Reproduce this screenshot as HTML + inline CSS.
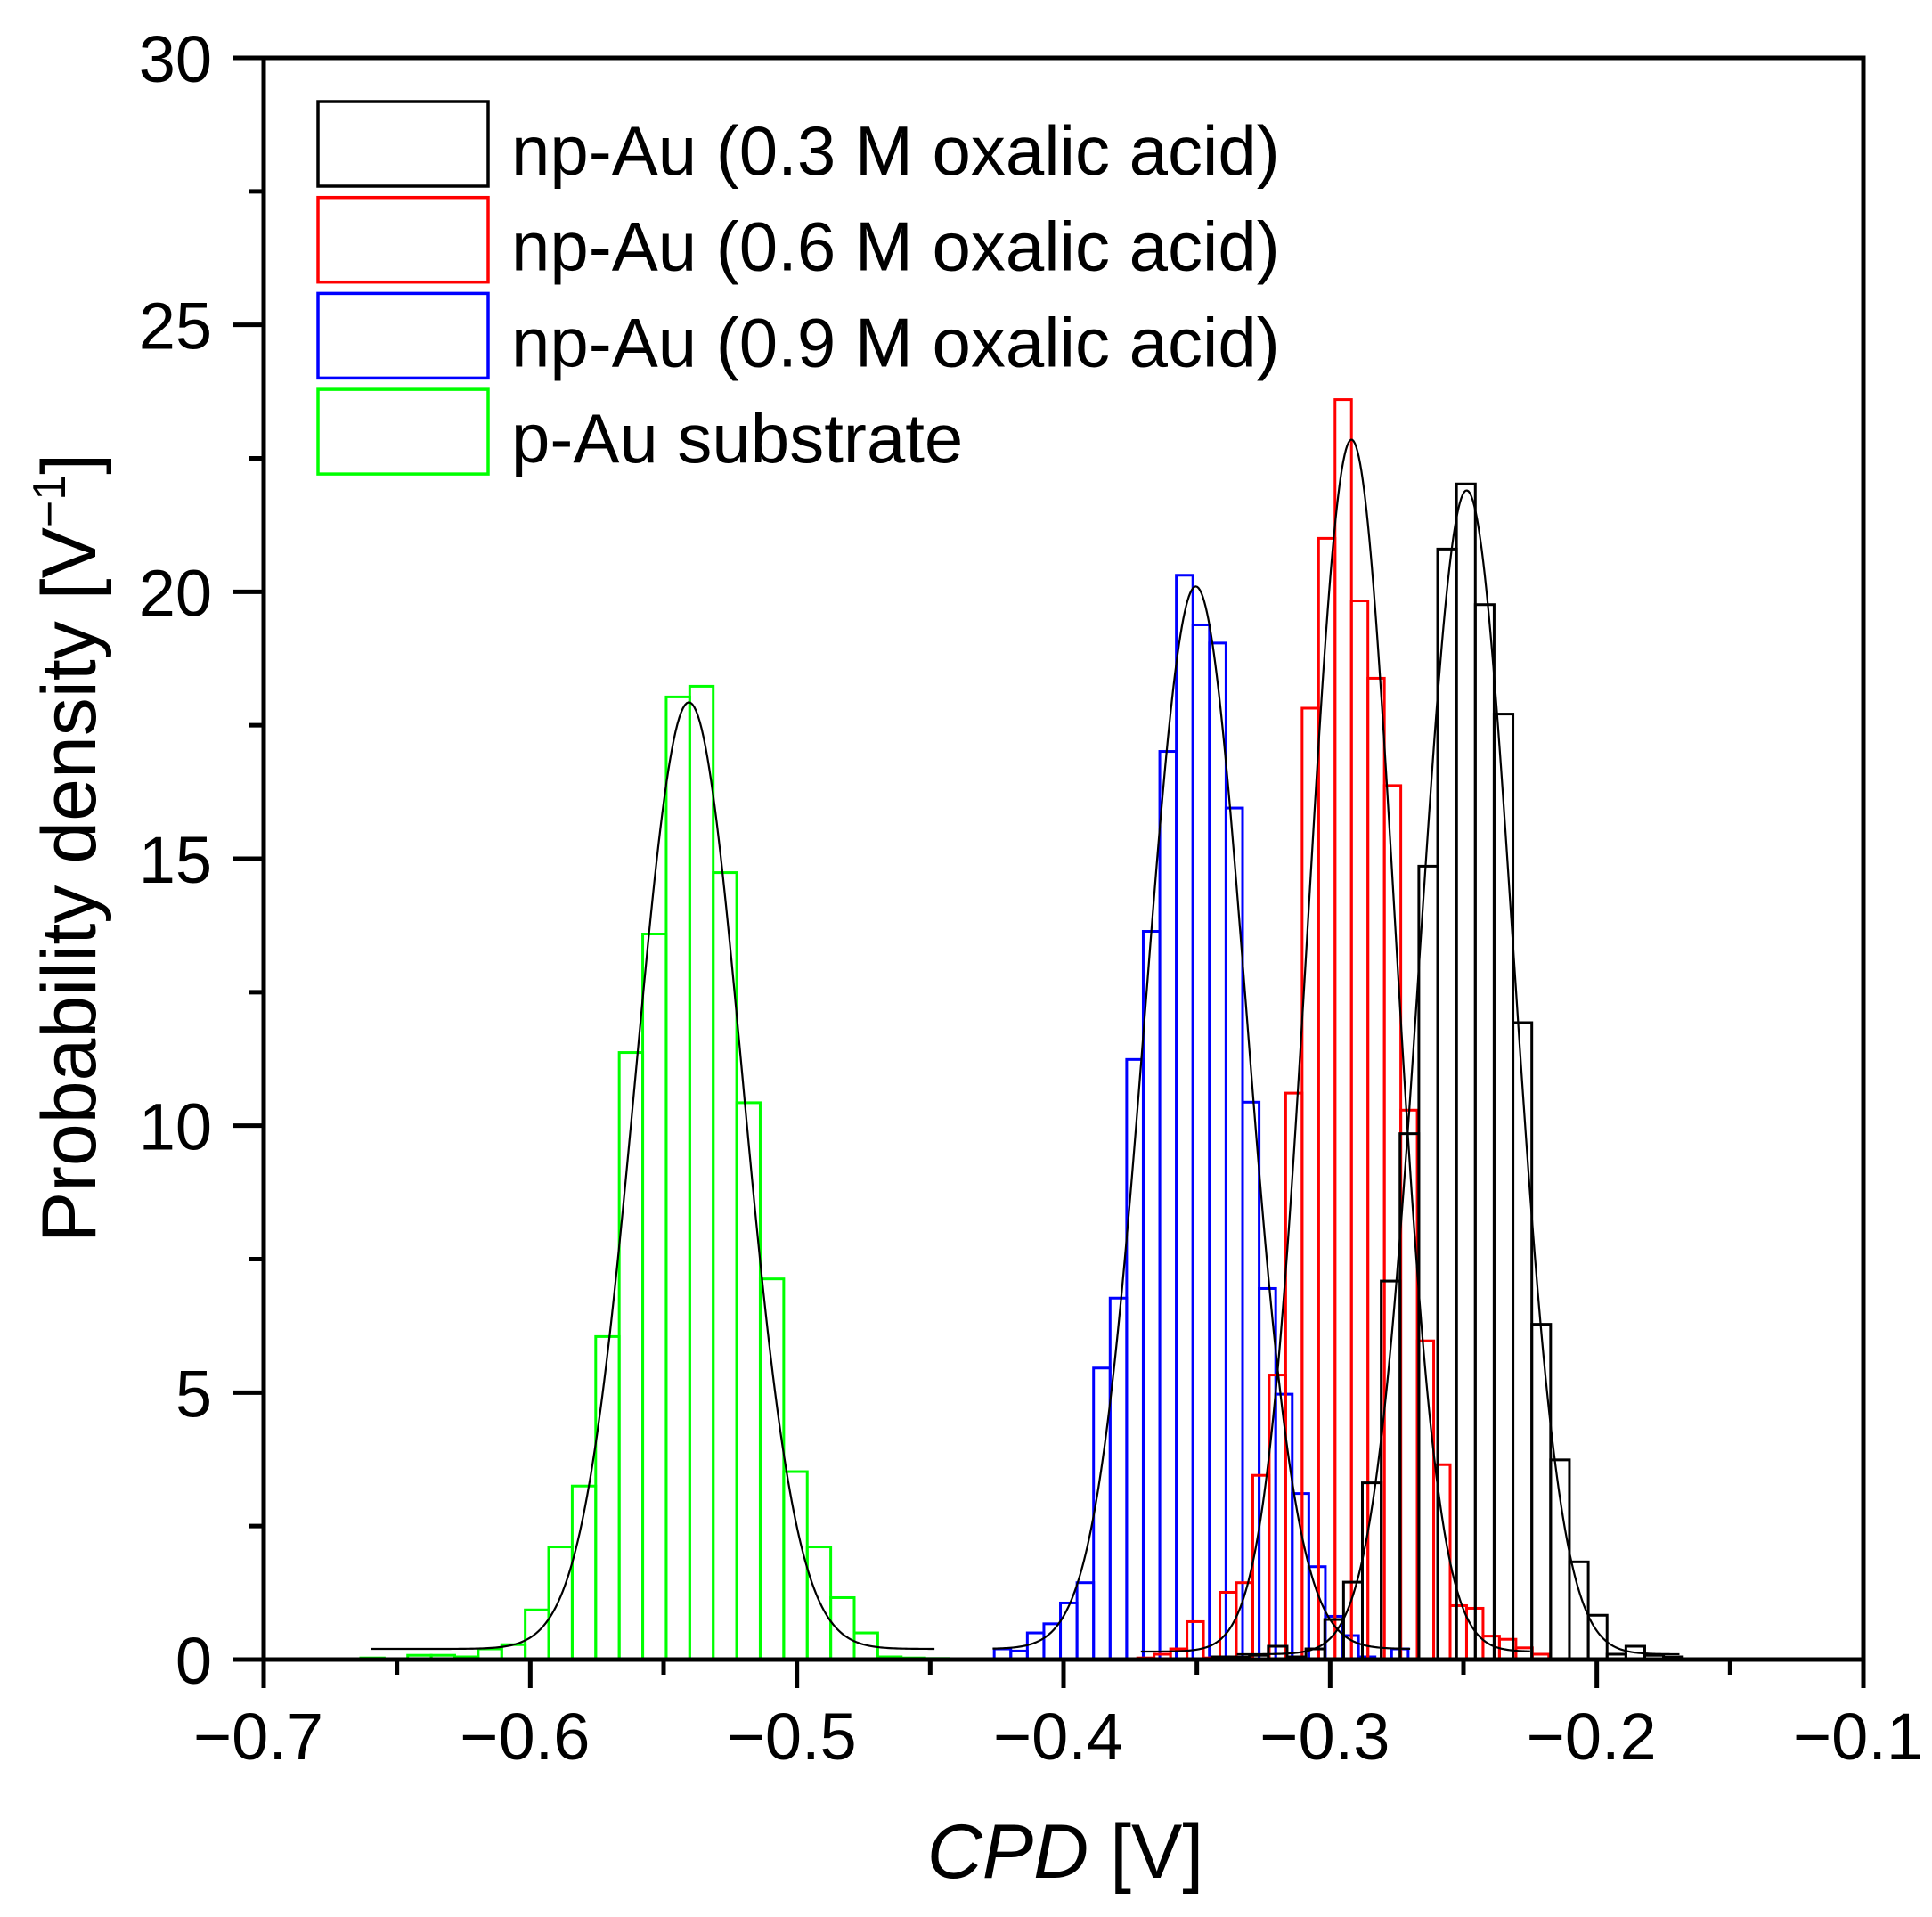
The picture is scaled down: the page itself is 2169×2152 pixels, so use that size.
<!DOCTYPE html>
<html><head><meta charset="utf-8"><style>
html,body{margin:0;padding:0;background:#fff;}
svg{display:block;}
text{font-family:"Liberation Sans",Arial,sans-serif;fill:#000;}
</style></head><body>
<svg id="chart" width="2169" height="2152" viewBox="0 0 2169 2152" xmlns="http://www.w3.org/2000/svg">
<g id="plot"></g>
<g id="axes"></g>
<g id="legend"></g>
</svg>
<script>
// ---- data ----
const xTicks = [-0.7, -0.6, -0.5, -0.4, -0.3, -0.2, -0.1];
const xTickLabels = ["\u22120.7", "\u22120.6", "\u22120.5", "\u22120.4", "\u22120.3", "\u22120.2", "\u22120.1"];
const yTicks = [0, 5, 10, 15, 20, 25, 30];
const yTickLabels = ["0", "5", "10", "15", "20", "25", "30"];

const greenStart = -0.6636, greenWidth = 0.008814;
const greenHeights = [0.03, 0.0, 0.08, 0.08, 0.05, 0.2, 0.28, 0.93, 2.11, 3.25, 6.05, 11.37, 13.59, 18.03, 18.23, 14.74, 10.43, 7.13, 3.52, 2.11, 1.16, 0.50, 0.05, 0.03, 0.02];

const blueStart = -0.4260, blueWidth = 0.00621;
const blueHeights = [0.20, 0.16, 0.50, 0.67, 1.06, 1.44, 5.46, 6.77, 11.24, 13.64, 17.01, 20.31, 19.38, 19.04, 15.95, 10.44, 6.95, 4.97, 3.11, 1.74, 0.81, 0.45, 0.05, 0.0, 0.20];

const redStart = -0.3722, redWidth = 0.006168;
const redHeights = [0.03, 0.1, 0.2, 0.71, 0.03, 1.26, 1.44, 3.45, 5.33, 10.61, 17.82, 21.0, 23.6, 19.83, 18.38, 16.37, 10.29, 5.97, 3.65, 1.01, 0.96, 0.44, 0.38, 0.22, 0.1];

const blackStart = -0.3444, blackWidth = 0.00706;
const blackHeights = [0.05, 0.05, 0.08, 0.25, 0.05, 0.2, 0.75, 1.45, 3.31, 7.09, 9.85, 14.86, 20.80, 22.02, 19.76, 17.71, 11.93, 6.28, 3.74, 1.83, 0.83, 0.1, 0.25, 0.08, 0.05];

// Gaussian fit parameters: [center, amplitude, sigma, offset, xmin, xmax]
const greenFit = [-0.5405, 17.73, 0.0200, 0.2, -0.6596, -0.4484];
const blueFit = [-0.3504, 19.9, 0.0188, 0.2, -0.4266, -0.2700];
const redFit = [-0.2920, 22.7, 0.0162, 0.15, -0.3710, -0.2250];
const blackFit = [-0.2488, 21.8, 0.01746, 0.1, -0.3350, -0.1690];

const legendLabels = ["np-Au (0.3 M oxalic acid)", "np-Au (0.6 M oxalic acid)", "np-Au (0.9 M oxalic acid)", "p-Au substrate"];
const legendColors = ["#000000", "#ff0000", "#0000ff", "#00ff00"];

// ---- axis functions ----
const X0 = 296, X1 = 2092, Y0 = 1863, Y1 = 65;
function xs(v){ return X0 + (v - (-0.7)) / 0.6 * (X1 - X0); }
function ys(v){ return Y0 - v / 30 * (Y0 - Y1); }
const NS = "http://www.w3.org/2000/svg";
function mk(tag, attrs, parent){
  const e = document.createElementNS(NS, tag);
  for (const k in attrs) e.setAttribute(k, attrs[k]);
  parent.appendChild(e);
  return e;
}
const plot = document.getElementById('plot');
const axes = document.getElementById('axes');
const legend = document.getElementById('legend');

function drawHist(start, width, heights, color, name){
  const g = mk('g', {}, plot);
  
  
  heights.forEach((h, i) => {
    if (h <= 0) return;
    const xa = xs(start + i * width), xb = xs(start + (i + 1) * width);
    const r = mk('rect', {x: xa, y: ys(h), width: xb - xa, height: ys(0) - ys(h), fill: 'none', stroke: color, 'stroke-width': 3}, g);
    
    
  });
}
function drawFit(p, name){
  const [c, a, s, o, lo, hi] = p;
  let d = '';
  const n = 300;
  for (let i = 0; i <= n; i++){
    const v = lo + (hi - lo) * i / n;
    const y = o + a * Math.exp(-0.5 * Math.pow((v - c) / s, 2));
    d += (i ? 'L' : 'M') + xs(v).toFixed(2) + ' ' + ys(y).toFixed(2);
  }
  const path = mk('path', {d: d, fill: 'none', stroke: '#000', 'stroke-width': 2.2}, plot);
  
  
}
drawHist(greenStart, greenWidth, greenHeights, '#00ff00', 'p-au-substrate');
drawHist(blueStart, blueWidth, blueHeights, '#0000ff', 'np-au-0-9m');
drawHist(redStart, redWidth, redHeights, '#ff0000', 'np-au-0-6m');
drawHist(blackStart, blackWidth, blackHeights, '#000000', 'np-au-0-3m');
drawFit(greenFit, 'p-au-substrate');
drawFit(blueFit, 'np-au-0-9m');
drawFit(redFit, 'np-au-0-6m');
drawFit(blackFit, 'np-au-0-3m');

// ---- axes ----
const frame = mk('rect', {x: X0, y: Y1, width: X1 - X0, height: Y0 - Y1, fill: 'none', stroke: '#000', 'stroke-width': 5}, axes);


xTicks.forEach((v, i) => {
  const x = xs(v);
  const t = mk('line', {x1: x, x2: x, y1: Y0, y2: Y0 + 32, stroke: '#000', 'stroke-width': 5}, axes);
  
  
  if (i < xTicks.length - 1){
    const xm = xs(v + 0.05);
    const m = mk('line', {x1: xm, x2: xm, y1: Y0, y2: Y0 + 17, stroke: '#000', 'stroke-width': 5}, axes);
    
    
  }
  const l = mk('text', {x: x - 6, y: 1975, 'text-anchor': 'middle', 'font-size': 74}, axes);
  l.textContent = xTickLabels[i];
  
  
});
yTicks.forEach((v, i) => {
  const y = ys(v);
  const t = mk('line', {x1: X0 - 34, x2: X0, y1: y, y2: y, stroke: '#000', 'stroke-width': 5}, axes);
  
  
  if (i < yTicks.length - 1){
    const ym = ys(v + 2.5);
    const m = mk('line', {x1: X0 - 17, x2: X0, y1: ym, y2: ym, stroke: '#000', 'stroke-width': 5}, axes);
    
    
  }
  const l = mk('text', {x: 238, y: y + 27, 'text-anchor': 'end', 'font-size': 74}, axes);
  l.textContent = yTickLabels[i];
  
  
});

// ---- legend ----
legendLabels.forEach((lab, i) => {
  const top = 114 + i * 107.7;
  const b = mk('rect', {x: 357, y: top, width: 191, height: 95, fill: 'none', stroke: legendColors[i], 'stroke-width': 3.5}, legend);
  
  
  const t = mk('text', {x: 574, y: top + 82, 'font-size': 78}, legend);
  t.textContent = lab;
  
  
});
</script>
<div style="position:absolute;left:0;top:0;width:2169px;height:2152px;pointer-events:none;">
<svg width="2169" height="2152" viewBox="0 0 2169 2152" xmlns="http://www.w3.org/2000/svg" style="position:absolute;left:0;top:0;">
<text x="1196" y="2108" text-anchor="middle" font-size="86" style="font-family:'Liberation Sans',Arial,sans-serif"><tspan font-style="italic">CPD</tspan> [V]</text>
<text transform="translate(107,952) rotate(-90)" text-anchor="middle" font-size="86" style="font-family:'Liberation Sans',Arial,sans-serif">Probability density [V<tspan font-size="52" dy="-34">−1</tspan><tspan dy="34">]</tspan></text>
</svg>
</div>
</body></html>
